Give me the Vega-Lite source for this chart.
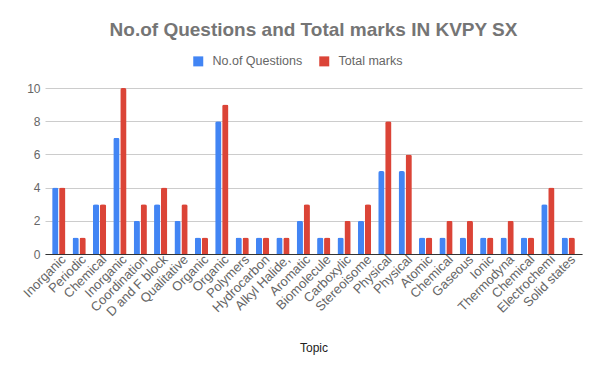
{
  "$schema": "https://vega.github.io/schema/vega-lite/v6.json",
  "autosize": {"type": "none"},
  "width": 537,
  "height": 166,
  "padding": {"left": 45, "top": 88, "right": 18, "bottom": 117},
  "background": "white",
  "title": {
    "text": "No.of Questions and Total marks IN KVPY SX",
    "font": "Liberation Sans",
    "fontSize": 19,
    "fontWeight": "bold",
    "color": "#757575",
    "anchor": "middle",
    "offset": 15
  },
  "config": {
    "view": {"stroke": null},
    "font": "Liberation Sans"
  },
  "data": {
    "values": [
      {"id": 0, "topic": "Inorganic", "series": "No.of Questions", "value": 4},
      {"id": 0, "topic": "Inorganic", "series": "Total marks", "value": 4},
      {"id": 1, "topic": "Periodic", "series": "No.of Questions", "value": 1},
      {"id": 1, "topic": "Periodic", "series": "Total marks", "value": 1},
      {"id": 2, "topic": "Chemical", "series": "No.of Questions", "value": 3},
      {"id": 2, "topic": "Chemical", "series": "Total marks", "value": 3},
      {"id": 3, "topic": "Inorganic", "series": "No.of Questions", "value": 7},
      {"id": 3, "topic": "Inorganic", "series": "Total marks", "value": 10},
      {"id": 4, "topic": "Coordination", "series": "No.of Questions", "value": 2},
      {"id": 4, "topic": "Coordination", "series": "Total marks", "value": 3},
      {"id": 5, "topic": "D and F block", "series": "No.of Questions", "value": 3},
      {"id": 5, "topic": "D and F block", "series": "Total marks", "value": 4},
      {"id": 6, "topic": "Qualitative", "series": "No.of Questions", "value": 2},
      {"id": 6, "topic": "Qualitative", "series": "Total marks", "value": 3},
      {"id": 7, "topic": "Organic", "series": "No.of Questions", "value": 1},
      {"id": 7, "topic": "Organic", "series": "Total marks", "value": 1},
      {"id": 8, "topic": "Organic", "series": "No.of Questions", "value": 8},
      {"id": 8, "topic": "Organic", "series": "Total marks", "value": 9},
      {"id": 9, "topic": "Polymers", "series": "No.of Questions", "value": 1},
      {"id": 9, "topic": "Polymers", "series": "Total marks", "value": 1},
      {"id": 10, "topic": "Hydrocarbon", "series": "No.of Questions", "value": 1},
      {"id": 10, "topic": "Hydrocarbon", "series": "Total marks", "value": 1},
      {"id": 11, "topic": "Alkyl Halide,", "series": "No.of Questions", "value": 1},
      {"id": 11, "topic": "Alkyl Halide,", "series": "Total marks", "value": 1},
      {"id": 12, "topic": "Aromatic", "series": "No.of Questions", "value": 2},
      {"id": 12, "topic": "Aromatic", "series": "Total marks", "value": 3},
      {"id": 13, "topic": "Biomolecule", "series": "No.of Questions", "value": 1},
      {"id": 13, "topic": "Biomolecule", "series": "Total marks", "value": 1},
      {"id": 14, "topic": "Carboxylic", "series": "No.of Questions", "value": 1},
      {"id": 14, "topic": "Carboxylic", "series": "Total marks", "value": 2},
      {"id": 15, "topic": "Stereoisome", "series": "No.of Questions", "value": 2},
      {"id": 15, "topic": "Stereoisome", "series": "Total marks", "value": 3},
      {"id": 16, "topic": "Physical", "series": "No.of Questions", "value": 5},
      {"id": 16, "topic": "Physical", "series": "Total marks", "value": 8},
      {"id": 17, "topic": "Physical", "series": "No.of Questions", "value": 5},
      {"id": 17, "topic": "Physical", "series": "Total marks", "value": 6},
      {"id": 18, "topic": "Atomic", "series": "No.of Questions", "value": 1},
      {"id": 18, "topic": "Atomic", "series": "Total marks", "value": 1},
      {"id": 19, "topic": "Chemical", "series": "No.of Questions", "value": 1},
      {"id": 19, "topic": "Chemical", "series": "Total marks", "value": 2},
      {"id": 20, "topic": "Gaseous", "series": "No.of Questions", "value": 1},
      {"id": 20, "topic": "Gaseous", "series": "Total marks", "value": 2},
      {"id": 21, "topic": "Ionic", "series": "No.of Questions", "value": 1},
      {"id": 21, "topic": "Ionic", "series": "Total marks", "value": 1},
      {"id": 22, "topic": "Thermodyna", "series": "No.of Questions", "value": 1},
      {"id": 22, "topic": "Thermodyna", "series": "Total marks", "value": 2},
      {"id": 23, "topic": "Chemical", "series": "No.of Questions", "value": 1},
      {"id": 23, "topic": "Chemical", "series": "Total marks", "value": 1},
      {"id": 24, "topic": "Electrochemi", "series": "No.of Questions", "value": 3},
      {"id": 24, "topic": "Electrochemi", "series": "Total marks", "value": 4},
      {"id": 25, "topic": "Solid states", "series": "No.of Questions", "value": 1},
      {"id": 25, "topic": "Solid states", "series": "Total marks", "value": 1}
    ]
  },
  "mark": {"type": "bar", "cornerRadiusTopLeft": 2, "cornerRadiusTopRight": 2},
  "encoding": {
    "x": {
      "field": "id",
      "type": "ordinal",
      "scale": {"paddingInner": 0.35, "paddingOuter": 0.35},
      "axis": {
        "title": "Topic",
        "titleFont": "Liberation Sans",
        "titleFontSize": 12,
        "titleFontWeight": "normal",
        "titleColor": "#222222",
        "titlePadding": 24,
        "labelFont": "Liberation Sans",
        "labelAngle": -45,
        "labelAlign": "right",
        "labelBaseline": "middle",
        "labelFontSize": 13,
        "labelColor": "#666666",
        "labelPadding": 3,
        "labelOffset": 5,
        "ticks": false,
        "domainColor": "#333333",
        "labelExpr": "['Inorganic','Periodic','Chemical','Inorganic','Coordination','D and F block','Qualitative','Organic','Organic','Polymers','Hydrocarbon','Alkyl Halide,','Aromatic','Biomolecule','Carboxylic','Stereoisome','Physical','Physical','Atomic','Chemical','Gaseous','Ionic','Thermodyna','Chemical','Electrochemi','Solid states'][datum.value]"
      }
    },
    "xOffset": {"field": "series", "type": "nominal", "scale": {"paddingInner": 0.1}},
    "y": {
      "field": "value",
      "type": "quantitative",
      "scale": {"domain": [0, 10]},
      "axis": {
        "title": null,
        "values": [0, 2, 4, 6, 8, 10],
        "labelFont": "Liberation Sans",
        "labelFontSize": 12,
        "labelColor": "#666666",
        "labelPadding": 5,
        "ticks": false,
        "domain": false,
        "gridColor": "#cccccc"
      }
    },
    "color": {
      "field": "series",
      "type": "nominal",
      "scale": {"domain": ["No.of Questions", "Total marks"], "range": ["#4285F4", "#DB4437"]},
      "legend": {
        "title": null,
        "orient": "none",
        "direction": "horizontal",
        "legendX": 147,
        "legendY": -33,
        "symbolType": "square",
        "symbolSize": 100,
        "symbolStrokeWidth": 0,
        "labelFont": "Liberation Sans",
        "labelFontSize": 12.5,
        "labelColor": "#666666",
        "columnPadding": 15,
        "labelOffset": 8
      }
    }
  }
}
